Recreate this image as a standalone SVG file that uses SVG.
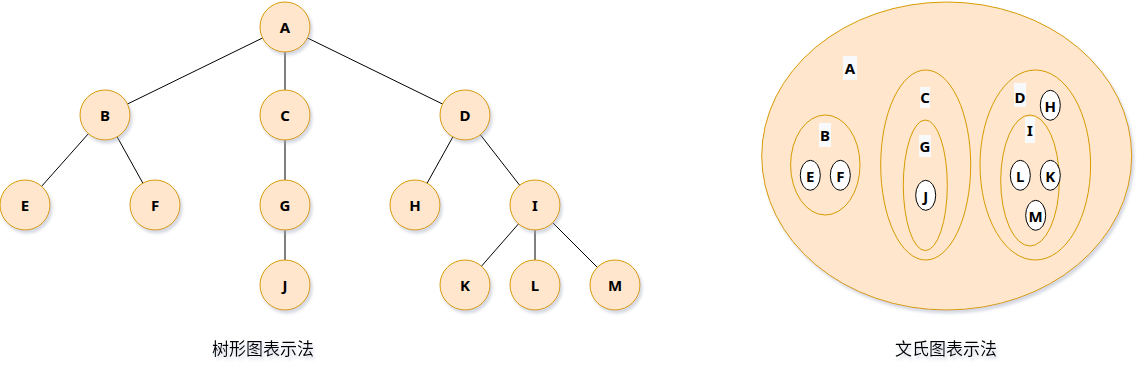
<svg xmlns="http://www.w3.org/2000/svg" width="1143" height="372" viewBox="0 0 1143 372">
<defs>
<filter id="sh" x="-20%" y="-20%" width="150%" height="150%">
<feGaussianBlur in="SourceAlpha" stdDeviation="1.5"/>
<feOffset dx="2" dy="3" result="b"/>
<feFlood flood-color="#a0a8c0" flood-opacity="0.45"/>
<feComposite in2="b" operator="in"/>
<feMerge><feMergeNode/><feMergeNode in="SourceGraphic"/></feMerge>
</filter>
</defs>
<style>
.n{fill:#ffe6cc;stroke:#d79b00;stroke-width:1}
.s{fill:#ffffff;stroke:#000000;stroke-width:1}
.e{fill:none;stroke:#d79b00;stroke-width:1}
.t{font-family:"Comic Sans MS","Noto Sans",sans-serif;font-size:15px;font-weight:bold;text-anchor:middle;dominant-baseline:central;fill:#000}
.v{font-family:"Comic Sans MS","Noto Sans",sans-serif;font-size:15px;font-weight:bold;text-anchor:middle;dominant-baseline:central;fill:#000}
.lb{fill:#f8f9fa}
.c{font-family:"Noto Sans CJK SC",sans-serif;font-size:17px;text-anchor:middle;dominant-baseline:central;fill:#000}
.l{stroke:#000;stroke-width:1;fill:none}
</style>
<rect width="1143" height="372" fill="#ffffff"/>
<g id="connectors">
<line class="l" x1="285" y1="27" x2="105" y2="115"/>
<line class="l" x1="285" y1="27" x2="285" y2="115"/>
<line class="l" x1="285" y1="27" x2="465" y2="115"/>
<line class="l" x1="105" y1="115" x2="25" y2="205"/>
<line class="l" x1="105" y1="115" x2="155" y2="205"/>
<line class="l" x1="285" y1="115" x2="285" y2="205"/>
<line class="l" x1="285" y1="205" x2="285" y2="285"/>
<line class="l" x1="465" y1="115" x2="415" y2="205"/>
<line class="l" x1="465" y1="115" x2="535" y2="205"/>
<line class="l" x1="535" y1="205" x2="465" y2="285"/>
<line class="l" x1="535" y1="205" x2="535" y2="285"/>
<line class="l" x1="535" y1="205" x2="615" y2="285"/>
</g>
<g id="nA"><circle class="n" filter="url(#sh)" cx="285" cy="27" r="25"/><text class="t" x="285" y="27">A</text></g>
<g id="nB"><circle class="n" filter="url(#sh)" cx="105" cy="115" r="25"/><text class="t" x="105" y="115">B</text></g>
<g id="nC"><circle class="n" filter="url(#sh)" cx="285" cy="115" r="25"/><text class="t" x="285" y="115">C</text></g>
<g id="nD"><circle class="n" filter="url(#sh)" cx="465" cy="115" r="25"/><text class="t" x="465" y="115">D</text></g>
<g id="nE"><circle class="n" filter="url(#sh)" cx="25" cy="205" r="25"/><text class="t" x="25" y="205">E</text></g>
<g id="nF"><circle class="n" filter="url(#sh)" cx="155" cy="205" r="25"/><text class="t" x="155" y="205">F</text></g>
<g id="nG"><circle class="n" filter="url(#sh)" cx="285" cy="205" r="25"/><text class="t" x="285" y="205">G</text></g>
<g id="nH"><circle class="n" filter="url(#sh)" cx="415" cy="205" r="25"/><text class="t" x="415" y="205">H</text></g>
<g id="nI"><circle class="n" filter="url(#sh)" cx="535" cy="205" r="25"/><text class="t" x="535" y="205">I</text></g>
<g id="nJ"><circle class="n" filter="url(#sh)" cx="285" cy="285" r="25"/><text class="t" x="285" y="285">J</text></g>
<g id="nK"><circle class="n" filter="url(#sh)" cx="465" cy="285" r="25"/><text class="t" x="465" y="285">K</text></g>
<g id="nL"><circle class="n" filter="url(#sh)" cx="535" cy="285" r="25"/><text class="t" x="535" y="285">L</text></g>
<g id="nM"><circle class="n" filter="url(#sh)" cx="615" cy="285" r="25"/><text class="t" x="615" y="285">M</text></g>
<g id="cap1"><text class="c" x="263" y="347" filter="url(#sh)">树形图表示法</text></g>
<g id="venn">
<ellipse class="n" filter="url(#sh)" cx="946.7" cy="156" rx="185" ry="154"/>
<rect class="lb" x="843" y="56" width="14" height="24"/><text class="v" x="850" y="68">A</text>
<ellipse class="e" cx="825.3" cy="165" rx="34.7" ry="50"/>
<rect class="lb" x="819" y="123" width="12" height="24"/><text class="v" x="825" y="135">B</text>
<ellipse class="s" cx="810.3" cy="175.3" rx="10" ry="15"/><text class="v" x="810.3" y="175.5">E</text>
<ellipse class="s" cx="840.3" cy="175.3" rx="10" ry="15"/><text class="v" x="840.3" y="175.5">F</text>
<ellipse class="e" cx="925.7" cy="165" rx="45" ry="95"/>
<rect class="lb" x="920" y="87" width="10" height="21"/><text class="v" x="925" y="97">C</text>
<ellipse class="e" cx="925.3" cy="185.3" rx="22" ry="65.3"/>
<rect class="lb" x="919" y="135" width="12" height="22"/><text class="v" x="925" y="146">G</text>
<ellipse class="s" cx="925.7" cy="195.3" rx="10" ry="15"/><text class="v" x="925.7" y="195.5">J</text>
<ellipse class="e" cx="1035.3" cy="165" rx="55.3" ry="95"/>
<rect class="lb" x="1014" y="83" width="12" height="24"/><text class="v" x="1020" y="97">D</text>
<ellipse class="s" cx="1050.3" cy="105.3" rx="10" ry="15"/><text class="v" x="1050.3" y="105.5">H</text>
<ellipse class="e" cx="1030" cy="180.5" rx="29.3" ry="65.5"/>
<rect class="lb" x="1025" y="117" width="10" height="26"/><text class="v" x="1030" y="130">I</text>
<ellipse class="s" cx="1020.3" cy="175.3" rx="10" ry="15"/><text class="v" x="1020.3" y="175.5">L</text>
<ellipse class="s" cx="1050.3" cy="175.3" rx="10" ry="15"/><text class="v" x="1050.3" y="175.5">K</text>
<ellipse class="s" cx="1035.7" cy="215.3" rx="10" ry="15"/><text class="v" x="1035.7" y="215.5">M</text>
</g>
<g id="cap2"><text class="c" x="946" y="347" filter="url(#sh)">文氏图表示法</text></g>
</svg>
